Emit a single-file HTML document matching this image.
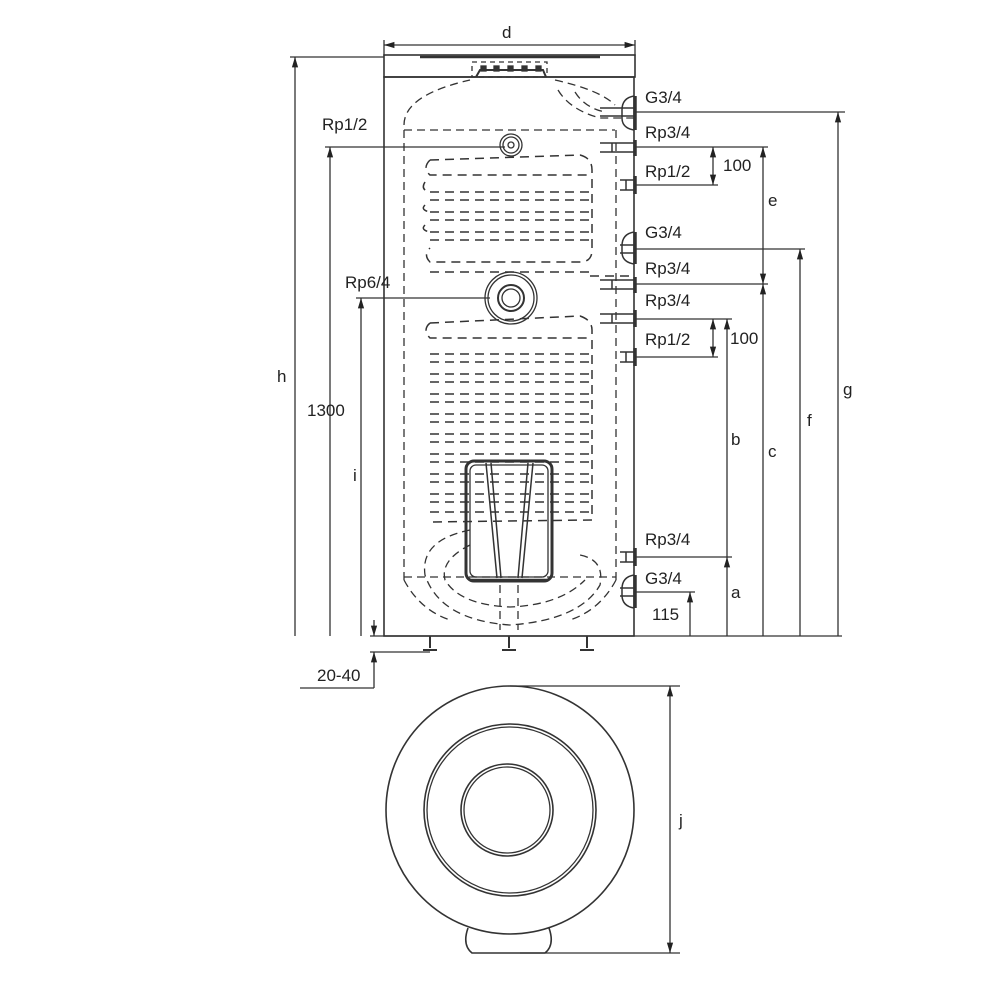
<!DOCTYPE html>
<html><head><style>
html,body{margin:0;padding:0;background:#fff;width:1000px;height:1000px;overflow:hidden}
svg text{font-family:"Liberation Sans",sans-serif;font-size:17px;fill:#222}
</style></head><body>
<svg width="1000" height="1000" viewBox="0 0 1000 1000" xmlns="http://www.w3.org/2000/svg">
<defs>
<marker id="a" viewBox="0 0 10 10" refX="10" refY="5" markerWidth="8" markerHeight="8" orient="auto-start-reverse"><path d="M0,2 L10,5 L0,8z" fill="#222"/></marker>
</defs>
<g stroke="#333" fill="none" stroke-width="1.3">
<!-- top dimension d -->
<line x1="384" y1="45" x2="635" y2="45" marker-start="url(#a)" marker-end="url(#a)"/>
<line x1="384" y1="40" x2="384" y2="56"/><line x1="635" y1="40" x2="635" y2="56"/>
<!-- tank -->
<rect x="384" y="55" width="251" height="22" stroke-width="1.6"/>
<rect x="384" y="77" width="250" height="559" stroke-width="1.6"/>
<path d="M420,57 L600,57" stroke-width="2.5"/>
<rect x="472" y="62" width="75" height="15" stroke-dasharray="5 4"/>
<path d="M476,77 L480,70 L543,70 L546,77" stroke-width="2"/>
<g fill="#333"><rect x="481" y="66" width="5" height="5"/><rect x="494" y="66" width="5" height="5"/><rect x="508" y="66" width="5" height="5"/><rect x="522" y="66" width="5" height="5"/><rect x="536" y="66" width="5" height="5"/></g>
<!-- inner dashed -->
<g stroke-dasharray="8 5">
<path d="M404,125 Q404,95 470,80"/>
<path d="M555,80 Q600,90 615,105"/>
<path d="M404,130 L615,130"/>
<line x1="404" y1="130" x2="404" y2="580"/>
<line x1="616" y1="130" x2="616" y2="580"/>
<line x1="404" y1="577" x2="616" y2="577"/>
<path d="M558,90 Q570,110 600,118 L634,118"/>
<path d="M575,92 Q585,108 605,112"/>
</g>
<!-- upper coil -->
<g stroke-dasharray="9 6" stroke-width="1.5">
<path d="M430,160 L580,155 Q592,158 592,170 L592,250 Q592,262 580,262 L430,262 Q423,255 430,248"/>
<path d="M430,160 Q422,168 430,175 L590,175"/>
<line x1="430" y1="192" x2="590" y2="192"/><line x1="430" y1="200" x2="590" y2="200"/>
<line x1="430" y1="212" x2="590" y2="212"/><line x1="430" y1="220" x2="590" y2="220"/>
<line x1="430" y1="232" x2="590" y2="232"/><line x1="430" y1="240" x2="590" y2="240"/>
<line x1="430" y1="272" x2="590" y2="272"/>
<path d="M590,276 L630,276"/>
<path d="M425,182 Q420,190 430,192 M425,205 Q420,210 430,212 M425,225 Q420,230 430,232"/>
</g>
<!-- lower coil -->
<g stroke-dasharray="9 6" stroke-width="1.5">
<path d="M430,323 L580,316 Q592,320 592,330 L592,520 L430,522"/>
<path d="M430,323 Q422,330 430,338 L590,338"/>
<line x1="430" y1="354" x2="590" y2="354"/><line x1="430" y1="362" x2="590" y2="362"/>
<line x1="430" y1="374" x2="590" y2="374"/><line x1="430" y1="382" x2="590" y2="382"/>
<line x1="430" y1="394" x2="590" y2="394"/><line x1="430" y1="402" x2="590" y2="402"/>
<line x1="430" y1="414" x2="590" y2="414"/><line x1="430" y1="422" x2="590" y2="422"/>
<line x1="430" y1="434" x2="590" y2="434"/><line x1="430" y1="442" x2="590" y2="442"/>
<line x1="430" y1="454" x2="590" y2="454"/><line x1="430" y1="462" x2="590" y2="462"/>
<line x1="430" y1="474" x2="590" y2="474"/><line x1="430" y1="482" x2="590" y2="482"/>
<line x1="430" y1="494" x2="590" y2="494"/><line x1="430" y1="502" x2="590" y2="502"/>
<line x1="430" y1="512" x2="590" y2="512"/>
</g>
<!-- bottom swirls -->
<g stroke-dasharray="8 5">
<path d="M470,530 Q420,540 425,575 Q440,620 510,625 Q580,620 600,585 Q605,560 580,555"/>
<path d="M470,545 Q440,560 445,580 Q460,605 510,607 Q560,605 585,580"/>
<path d="M404,580 Q420,610 450,620"/>
<path d="M616,580 Q600,610 570,620"/>
<line x1="500" y1="585" x2="500" y2="630"/><line x1="518" y1="585" x2="518" y2="630"/>
</g>
<!-- heater element -->
<rect x="466" y="461" width="86" height="120" rx="8" stroke-width="3"/>
<rect x="470" y="465" width="78" height="112" rx="6"/>
<path d="M486,463 L497,578 M491,463 L501,578 M533,463 L522,578 M528,463 L518,578" stroke-width="1.5"/>
<path d="M470,580 L548,580" stroke-width="2.5"/>
<!-- legs -->
<line x1="370" y1="636" x2="842" y2="636"/>
<g stroke-width="2">
<path d="M423,650 L437,650 M430,636 L430,648"/>
<path d="M502,650 L516,650 M509,636 L509,648"/>
<path d="M580,650 L594,650 M587,636 L587,648"/>
</g>
<!-- ports -->
<g stroke-width="1.5">
<path d="M634,96 Q622,98 622,110 L622,118 Q622,128 634,130"/><path d="M600,108 L634,108 M600,116 L634,116"/>
<path d="M600,143 L634,143 M600,152 L634,152 M612,143 L612,152"/>
<path d="M620,180 L634,180 M620,190 L634,190 M626,180 L626,190"/>
<path d="M634,232 Q622,234 622,246 L622,252 Q622,262 634,264"/><path d="M620,245 L634,245 M620,253 L634,253"/>
<path d="M600,280 L634,280 M600,289 L634,289 M612,280 L612,289"/>
<path d="M600,314 L634,314 M600,323 L634,323 M612,314 L612,323"/>
<path d="M620,352 L634,352 M620,362 L634,362 M626,352 L626,362"/>
<path d="M620,552 L634,552 M620,562 L634,562 M626,552 L626,562"/>
<path d="M634,575 Q622,577 622,589 L622,595 Q622,606 634,608"/><path d="M620,588 L634,588 M620,596 L634,596"/>
</g>
<g stroke-width="3.5">
<line x1="635" y1="96" x2="635" y2="130"/><line x1="635" y1="140" x2="635" y2="156"/>
<line x1="635" y1="176" x2="635" y2="194"/><line x1="635" y1="232" x2="635" y2="264"/>
<line x1="635" y1="277" x2="635" y2="293"/><line x1="635" y1="310" x2="635" y2="327"/>
<line x1="635" y1="348" x2="635" y2="366"/><line x1="635" y1="548" x2="635" y2="566"/>
<line x1="635" y1="575" x2="635" y2="608"/>
</g>
<!-- circles -->
<circle cx="511" cy="145" r="11"/><circle cx="511" cy="145" r="8"/><circle cx="511" cy="145" r="3"/>
<circle cx="511" cy="298" r="26"/><circle cx="511" cy="298" r="23"/><circle cx="511" cy="298" r="13" stroke-width="2"/><circle cx="511" cy="298" r="9"/>
<!-- right dims -->
<line x1="635" y1="112" x2="845" y2="112"/>
<line x1="635" y1="147" x2="768" y2="147"/>
<line x1="635" y1="185" x2="718" y2="185"/>
<line x1="635" y1="249" x2="805" y2="249"/>
<line x1="635" y1="284" x2="768" y2="284"/>
<line x1="635" y1="319" x2="732" y2="319"/>
<line x1="635" y1="357" x2="718" y2="357"/>
<line x1="635" y1="557" x2="732" y2="557"/>
<line x1="635" y1="592" x2="695" y2="592"/>
<line x1="838" y1="636" x2="838" y2="112" marker-end="url(#a)"/>
<line x1="800" y1="636" x2="800" y2="249" marker-end="url(#a)"/>
<line x1="763" y1="636" x2="763" y2="284" marker-end="url(#a)"/>
<line x1="763" y1="147" x2="763" y2="284" marker-start="url(#a)" marker-end="url(#a)"/>
<line x1="713" y1="147" x2="713" y2="185" marker-start="url(#a)" marker-end="url(#a)"/>
<line x1="713" y1="319" x2="713" y2="357" marker-start="url(#a)" marker-end="url(#a)"/>
<line x1="727" y1="557" x2="727" y2="319" marker-end="url(#a)"/>
<line x1="727" y1="636" x2="727" y2="557" marker-end="url(#a)"/>
<line x1="690" y1="636" x2="690" y2="592" marker-end="url(#a)"/>
<!-- left dims -->
<line x1="290" y1="57" x2="384" y2="57"/>
<line x1="295" y1="636" x2="295" y2="57" marker-end="url(#a)"/>
<line x1="325" y1="147" x2="505" y2="147"/>
<line x1="330" y1="636" x2="330" y2="147" marker-end="url(#a)"/>
<line x1="356" y1="298" x2="490" y2="298"/>
<line x1="361" y1="636" x2="361" y2="298" marker-end="url(#a)"/>
<line x1="370" y1="652" x2="430" y2="652"/>
<line x1="374" y1="620" x2="374" y2="636" marker-end="url(#a)"/>
<line x1="374" y1="670" x2="374" y2="652" marker-end="url(#a)"/>
<line x1="374" y1="670" x2="374" y2="688"/>
<line x1="300" y1="688" x2="374" y2="688"/>
<!-- bottom view -->
<circle cx="510" cy="810" r="124" stroke-width="1.6"/>
<circle cx="510" cy="810" r="86" stroke-width="1.6"/><circle cx="510" cy="810" r="83"/>
<circle cx="507" cy="810" r="46" stroke-width="1.6"/><circle cx="507" cy="810" r="43"/>
<path d="M468,928 Q462,945 472,953 L545,953 Q555,945 549,928" stroke-width="1.6"/>
<line x1="510" y1="686" x2="680" y2="686"/><line x1="520" y1="953" x2="680" y2="953"/>
<line x1="670" y1="686" x2="670" y2="953" marker-start="url(#a)" marker-end="url(#a)"/>
</g>
<text x="502" y="38">d</text>
<text x="645" y="103">G3/4</text>
<text x="645" y="138">Rp3/4</text>
<text x="645" y="177">Rp1/2</text>
<text x="645" y="238">G3/4</text>
<text x="645" y="274">Rp3/4</text>
<text x="645" y="306">Rp3/4</text>
<text x="645" y="345">Rp1/2</text>
<text x="645" y="545">Rp3/4</text>
<text x="645" y="584">G3/4</text>
<text x="723" y="171">100</text>
<text x="730" y="344">100</text>
<text x="652" y="620">115</text>
<text x="768" y="206">e</text>
<text x="768" y="457">c</text>
<text x="807" y="426">f</text>
<text x="843" y="395">g</text>
<text x="731" y="445">b</text>
<text x="731" y="598">a</text>
<text x="277" y="382">h</text>
<text x="307" y="416">1300</text>
<text x="353" y="481">i</text>
<text x="322" y="130">Rp1/2</text>
<text x="345" y="288">Rp6/4</text>
<text x="317" y="681">20-40</text>
<text x="679" y="826">j</text>
</svg>
</body></html>
